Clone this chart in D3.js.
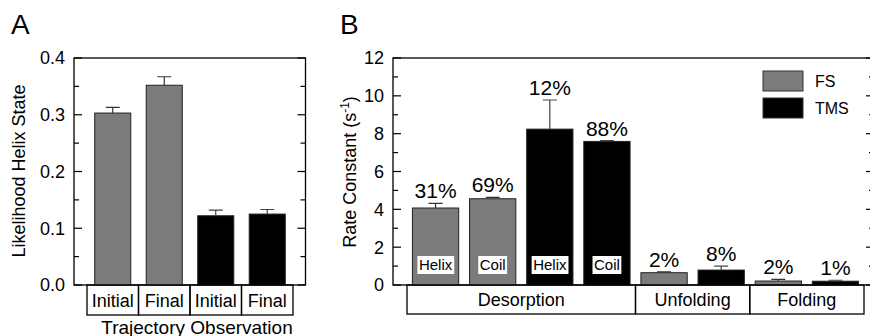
<!DOCTYPE html>
<style>body { margin: 0; } svg { display: block; }</style>
<svg width="870" height="336"></svg>
<script src="https://d3js.org/d3.v7.min.js"></script>
<script>

var svg = d3.select("svg"),
    font = "Liberation Sans, Arial, sans-serif";

var GRAY = "#7b7b7b", BLACK = "#000";

// panel A
var catsA = ["Initial", "Final", "Initial", "Final"];
var seriesA = ["FS", "FS", "TMS", "TMS"];
var valuesA = [0.303, 0.352, 0.122, 0.125];
var errorsA = [0.010, 0.015, 0.010, 0.008];
var ticksA = [0, 0.1, 0.2, 0.3, 0.4];

// panel B
var seriesB = ["FS", "FS", "TMS", "TMS", "FS", "TMS", "FS", "TMS"];
var valuesB = [4.07, 4.56, 8.24, 7.59, 0.65, 0.79, 0.21, 0.20];
var errorsB = [0.25, 0.07, 1.54, 0.04, 0.04, 0.21, 0.09, 0.05];
var pctB = ["31%", "69%", "12%", "88%", "2%", "8%", "2%", "1%"];
var innerB = ["Helix", "Coil", "Helix", "Coil", "", "", "", ""];
var groupsB = ["Desorption", "Unfolding", "Folding"];
var groupSizeB = [4, 2, 2];
var ticksB = [0, 2, 4, 6, 8, 10, 12];

var color = d3.scaleOrdinal().domain(["FS", "TMS"]).range([GRAY, BLACK]);

function panel(opt) {
  var g = svg.append("g");
  var y = d3.scaleLinear().domain(opt.domain).range([285, 58]);
  var x = d3.scaleBand()
      .domain(d3.range(opt.values.length))
      .range(opt.xr)
      .paddingInner(opt.pin)
      .paddingOuter(opt.pout);

  // frame
  g.append("rect")
      .attr("x", opt.left).attr("y", 58)
      .attr("width", opt.right - opt.left).attr("height", 227)
      .attr("fill", "none").attr("stroke", "#000").attr("stroke-width", 1.3);

  var minor = d3.range(opt.domain[0], opt.domain[1] + 1e-9, opt.minor);
  [opt.left, opt.right].forEach(function(ax, i) {
    var dir = i == 0 ? 1 : -1;
    g.selectAll(null).data(minor).enter().append("line")
        .attr("x1", ax).attr("x2", function(d) {
          var major = Math.abs(d / opt.major - Math.round(d / opt.major)) < 1e-6;
          return ax + dir * (major ? 8 : 5);
        })
        .attr("y1", function(d) { return y(d); })
        .attr("y2", function(d) { return y(d); })
        .attr("stroke", "#000").attr("stroke-width", 1.2);
  });

  g.selectAll(null).data(opt.ticks).enter().append("text")
      .attr("x", opt.left - 9)
      .attr("y", function(d) { return y(d); })
      .attr("dy", "0.36em")
      .attr("text-anchor", "end")
      .attr("font-family", font).attr("font-size", 18)
      .text(opt.fmt);

  var bars = g.selectAll(null).data(opt.values).enter().append("g");
  bars.append("rect")
      .attr("x", function(d, i) { return x(i); })
      .attr("y", function(d) { return y(d); })
      .attr("width", x.bandwidth())
      .attr("height", function(d) { return y(0) - y(d); })
      .attr("fill", function(d, i) { return color(opt.series[i]); })
      .attr("stroke", "#222").attr("stroke-width", 1);

  bars.append("path")
      .attr("d", function(d, i) {
        var cx = x(i) + x.bandwidth() / 2, t = y(d + opt.errors[i]);
        return "M" + cx + "," + y(d) + "V" + t + "M" + (cx - 7) + "," + t + "H" + (cx + 7);
      })
      .attr("fill", "none")
      .attr("stroke", function(d, i) { return opt.series[i] == "FS" ? "#333" : "#444"; })
      .attr("stroke-width", 1.2);

  return {g: g, x: x, y: y};
}

// ---- A
var A = panel({
  left: 74, right: 305.5, xr: [87, 293], pin: 0.3, pout: 0.15,
  domain: [0, 0.4], major: 0.1, minor: 0.05, ticks: ticksA,
  fmt: d3.format(".1f"),
  values: valuesA, errors: errorsA, series: seriesA
});

A.g.selectAll(null).data(catsA).enter().append("rect")
    .attr("x", function(d, i) { return A.x(i) - A.x.step() * A.x.paddingInner() / 2; })
    .attr("y", 285).attr("width", A.x.step()).attr("height", 30)
    .attr("fill", "none").attr("stroke", "#000").attr("stroke-width", 1.3);
A.g.selectAll(null).data(catsA).enter().append("text")
    .attr("x", function(d, i) { return A.x(i) + A.x.bandwidth() / 2; })
    .attr("y", 307)
    .attr("text-anchor", "middle")
    .attr("font-family", font).attr("font-size", 18)
    .text(function(d) { return d; });

svg.append("text")
    .attr("x", 197).attr("y", 334)
    .attr("text-anchor", "middle")
    .attr("font-family", font).attr("font-size", 19)
    .text("Trajectory Observation");

svg.append("text")
    .attr("transform", "translate(25,171) rotate(-90)")
    .attr("text-anchor", "middle")
    .attr("font-family", font).attr("font-size", 18)
    .text("Likelihood Helix State");

svg.append("text")
    .attr("x", 11).attr("y", 34)
    .attr("font-family", font).attr("font-size", 28)
    .text("A");

// ---- B
var B = panel({
  left: 393, right: 874, xr: [407, 864], pin: 0.19, pout: 0.095,
  domain: [0, 12], major: 2, minor: 1, ticks: ticksB,
  fmt: d3.format("d"),
  values: valuesB, errors: errorsB, series: seriesB
});

B.g.selectAll(null).data(valuesB).enter().append("text")
    .attr("x", function(d, i) { return B.x(i) + B.x.bandwidth() / 2; })
    .attr("y", function(d, i) { return B.y(d + errorsB[i]) - 5; })
    .attr("text-anchor", "middle")
    .attr("font-family", font).attr("font-size", 21)
    .text(function(d, i) { return pctB[i]; });

var inner = B.g.selectAll(null).data(innerB).enter()
  .filter(function(d) { return d; })
  .append("g")
    .attr("transform", function(d, i) {
      return "translate(" + (B.x(i) + B.x.bandwidth() / 2) + ",265)";
    });
inner.append("text")
    .attr("text-anchor", "middle")
    .attr("dy", "0.36em")
    .attr("font-family", font).attr("font-size", 15)
    .text(function(d) { return d; })
    .each(function() {
      var b = this.getBBox();
      d3.select(this.parentNode).insert("rect", "text")
          .attr("x", b.x - 1.5).attr("y", -9)
          .attr("width", b.width + 3).attr("height", 18)
          .attr("fill", "#fff");
    });

var gx = 407, step = B.x.step();
groupsB.forEach(function(name, i) {
  var w = groupSizeB[i] * step;
  B.g.append("rect")
      .attr("x", gx).attr("y", 285).attr("width", w).attr("height", 29)
      .attr("fill", "none").attr("stroke", "#000").attr("stroke-width", 1.3);
  B.g.append("text")
      .attr("x", gx + w / 2).attr("y", 306)
      .attr("text-anchor", "middle")
      .attr("font-family", font).attr("font-size", 18)
      .text(name);
  gx += w;
});

var rt = svg.append("text")
    .attr("transform", "translate(356,172) rotate(-90)")
    .attr("text-anchor", "middle")
    .attr("font-family", font).attr("font-size", 18);
rt.append("tspan").text("Rate Constant (s");
rt.append("tspan").attr("font-size", 12).attr("dy", -7).text("-1");
rt.append("tspan").attr("dy", 7).text(")");

svg.append("text")
    .attr("x", 340).attr("y", 34)
    .attr("font-family", font).attr("font-size", 28)
    .text("B");

// legend
var leg = svg.append("g").selectAll(null).data(color.domain()).enter().append("g")
    .attr("transform", function(d, i) { return "translate(763," + (71 + i * 27) + ")"; });
leg.append("rect")
    .attr("width", 40).attr("height", 20)
    .attr("fill", function(d) { return color(d); })
    .attr("stroke", "#333").attr("stroke-width", 1);
leg.append("text")
    .attr("x", 52).attr("y", 10).attr("dy", "0.36em")
    .attr("font-family", font).attr("font-size", 16)
    .text(function(d) { return d; });

</script>
